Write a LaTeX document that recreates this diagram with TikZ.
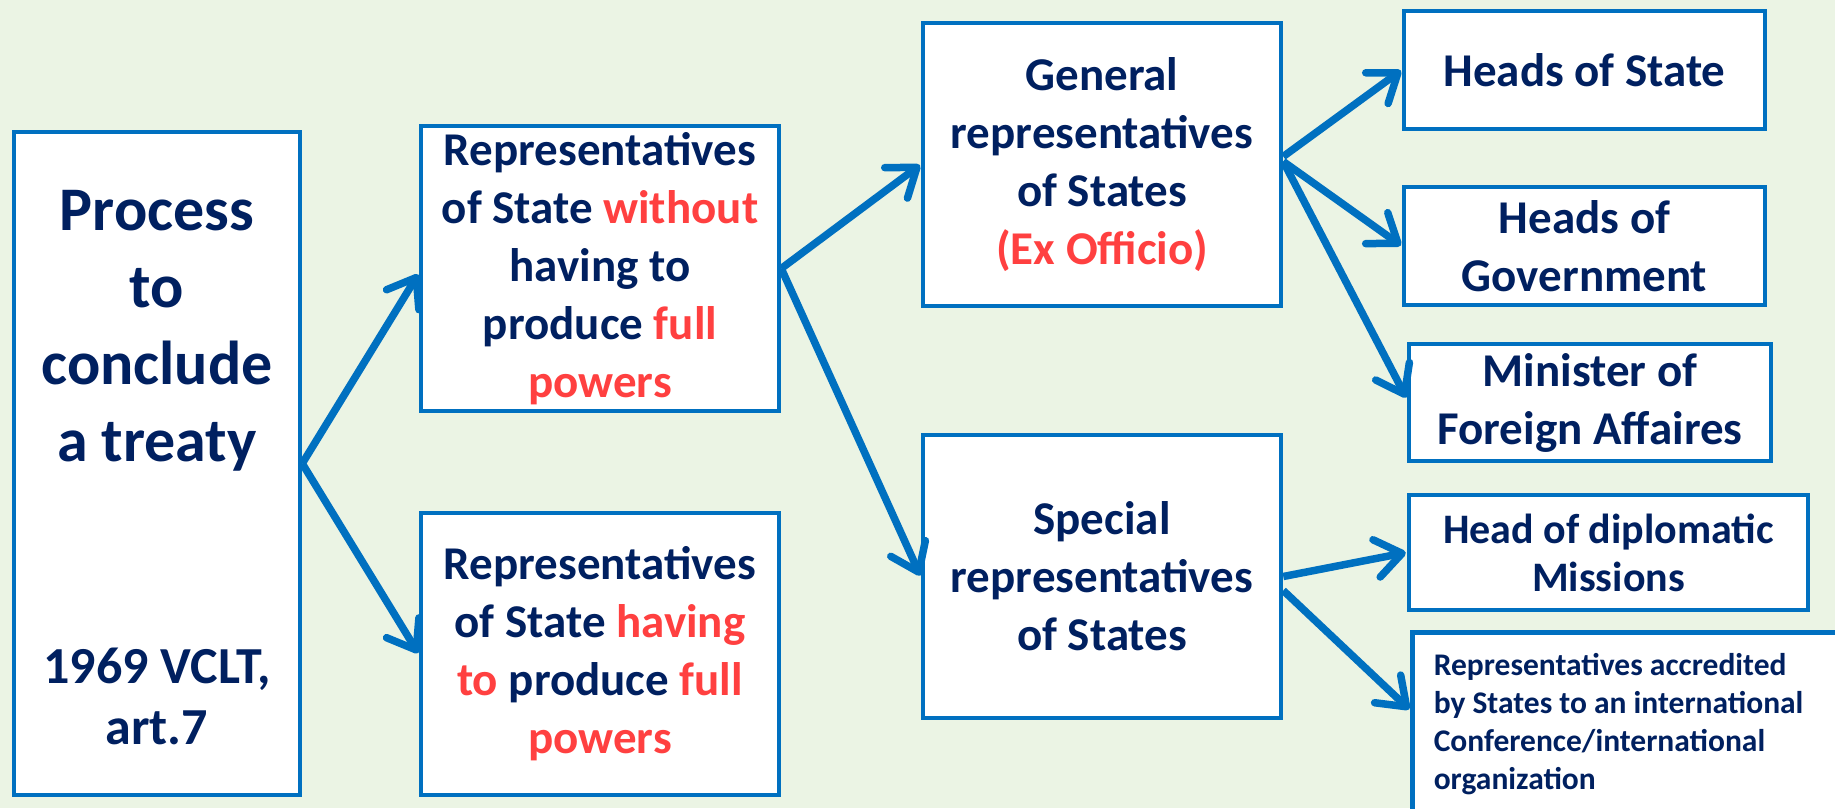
\documentclass[tikz,border=0pt]{standalone}
\usepackage{fontspec}
\setmainfont{Carlito}
\usepackage{tikz}
\usetikzlibrary{arrows.meta}

\definecolor{navy}{RGB}{0,32,96}
\definecolor{boxblue}{RGB}{0,112,192}
\definecolor{hired}{RGB}{255,64,64}
\definecolor{paleg}{RGB}{235,244,228}

\begin{document}
\begin{tikzpicture}[x=1pt,y=-1pt,->,>={Straight Barb[length=26pt,width=38pt,round]},
                    line width=7.5pt,color=boxblue,shorten >=1pt]
\tikzstyle{every node}=[font=\bfseries\fontsize{47}{58}\selectfont,text=navy,align=center,inner sep=0pt]
  	\tikzstyle{box}=[draw=boxblue,line width=4.5pt,fill=white,rectangle]
\useasboundingbox (0,0) rectangle (1835,808);
\clip (0,0) rectangle (1835,808);
\fill[paleg] (0,0) rectangle (1835,808);

% left column
\node [box,minimum width=286pt,minimum height=663pt] (proc) at (157,463.5) {};
\node [font=\bfseries\fontsize{62}{77}\selectfont] (proctitle) at (157,331) {Process\\to\\conclude\\a treaty};
\node [font=\bfseries\fontsize{52}{61}\selectfont] (procref) at (157,696) {1969 VCLT,\\art.7};

% representatives with or without full powers
\node [box,minimum width=358pt,minimum height=285pt] (rwo) at (600,268.5) {Representatives\\of State \textcolor{hired}{without}\\having to\\produce \textcolor{hired}{full}\\\textcolor{hired}{powers}};
\node [box,minimum width=358pt,minimum height=282pt] (rwh) at (600,654) {Representatives\\of State \textcolor{hired}{having}\\\textcolor{hired}{to} produce \textcolor{hired}{full}\\\textcolor{hired}{powers}};

% general and special representatives
\node [box,minimum width=358pt,minimum height=283pt] (gen) at (1102,164.5) {General\\representatives\\of States\\\textcolor{hired}{(Ex Officio)}};
\node [box,minimum width=358pt,minimum height=283pt] (spec) at (1102,576.5) {Special\\representatives\\of States};

% right column
\node [box,minimum width=361pt,minimum height=118pt] (hos) at (1584.5,70) {Heads of State};
\node [box,minimum width=361pt,minimum height=118pt] (hog) at (1584.5,246) {Heads of\\Government};
\node [box,minimum width=362pt,minimum height=117pt] (mfa) at (1590,402.5) {Minister of\\Foreign Affaires};
\node [box,minimum width=399pt,minimum height=115pt,font=\bfseries\fontsize{42}{48}\selectfont] (hdm) at (1608.5,552.5) {Head of diplomatic\\Missions};
\node [box,anchor=north west,minimum width=500pt,minimum height=260pt] (accr) at (1410,630) {};
\node [anchor=north west,align=left,font=\bfseries\fontsize{31.5}{38}\selectfont] (accrtext) at (1430,650) {Representatives accredited\\by States to an international\\Conference/international\\organization};

\draw (proc.east) -- ([yshift=-5pt]rwo.west);
\draw (proc.east) -- (rwh.west);
\draw (rwo.east) -- (gen.west);
\draw (rwo.east) -- (spec.west);
\draw ([yshift=8pt]gen.east) -- (hos.west);
\draw ([yshift=3pt]gen.east) -- (hog.west);
\draw ([yshift=3pt]gen.east) -- ([yshift=4pt]mfa.west);
\draw (spec.east) -- (hdm.west);
\draw ([yshift=-14pt]spec.east) -- ([yshift=-80pt]accr.north west);

	\end{tikzpicture}
\end{document}
